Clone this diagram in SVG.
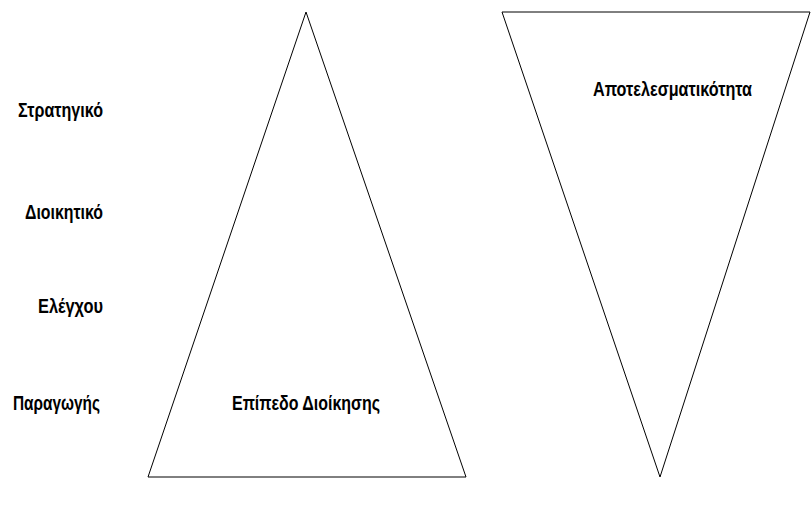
<svg xmlns="http://www.w3.org/2000/svg" width="811" height="505" viewBox="0 0 811 505">
<style>
.shape{fill:#ffffff;stroke:#000000;stroke-width:1}
.lbl{font-family:"Liberation Sans Narrow","Liberation Sans",Arial,sans-serif;font-weight:bold;font-size:20px;fill:#000000}
</style>
<rect width="811" height="505" fill="#ffffff"/>
<g id="pyramid">
<polygon class="shape" points="306,12 466,477 148,477"/>
<text class="lbl" x="232" y="410" textLength="148" lengthAdjust="spacingAndGlyphs">Επίπεδο Διοίκησης</text>
</g>
<g id="inverted">
<polygon class="shape" points="502,12 810,12 660,477"/>
<text class="lbl" x="593" y="96" textLength="159" lengthAdjust="spacingAndGlyphs">Αποτελεσματικότητα</text>
</g>
<g id="levels">
<text class="lbl" x="18" y="117" textLength="85" lengthAdjust="spacingAndGlyphs">Στρατηγικό</text>
<text class="lbl" x="25" y="219" textLength="78" lengthAdjust="spacingAndGlyphs">Διοικητικό</text>
<text class="lbl" x="38" y="313" textLength="65" lengthAdjust="spacingAndGlyphs">Ελέγχου</text>
<text class="lbl" x="13" y="410" textLength="87" lengthAdjust="spacingAndGlyphs">Παραγωγής</text>
</g>
<g id="connectors"></g>
</svg>
